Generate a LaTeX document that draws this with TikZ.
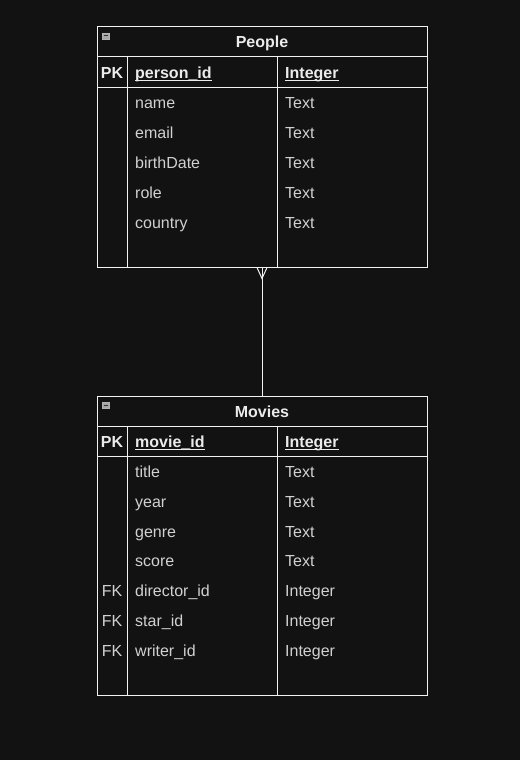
\documentclass[tikz,border=0pt]{standalone}
\usepackage{fontspec}
\setmainfont{Liberation Sans}
\usetikzlibrary{calc}
\begin{document}
\begin{tikzpicture}[x=1pt,y=-1pt,
  line/.style={draw=white!95!black,line width=1pt},
  tbl/.style={rectangle,line,inner sep=0pt,minimum width=330pt},
  cell/.style={anchor=base west,inner sep=0pt,text=white!82!black,font=\fontsize{16}{19}\selectfont},
  keycell/.style={anchor=base,inner sep=0pt,text=white!82!black,font=\fontsize{16}{19}\selectfont},
  pkcell/.style={anchor=base west,inner sep=0pt,text=white!92!black,font=\fontsize{16}{19}\selectfont\bfseries},
  head/.style={anchor=base,inner sep=0pt,text=white!92!black,font=\fontsize{16}{19}\selectfont\bfseries},
  uline/.style={draw=white!92!black,line width=1pt},
  icon/.style={rectangle,draw=white!70!black,fill=white!65!black,minimum width=7pt,minimum height=6pt,inner sep=0pt,line width=0.5pt}
]
\fill[black!93] (0,0) rectangle (520,760);
\useasboundingbox (0,0) rectangle (520,760);

% ---------- People ----------
\node[tbl,minimum height=240pt] (people) at (262,147) {};
\draw[line] (97,57) -- (427,57);
\draw[line] (97,87) -- (427,87);
\draw[line] (127,57) -- (127,267);
\draw[line] (277,57) -- (277,267);
\node[icon] (pIcon) at (106,36) {};
\draw[black!80,line width=1pt] ($(pIcon.west)+(1.5,0)$) -- ($(pIcon.east)+(-1.5,0)$);
\node[head] (pHead) at (262,48) {People};
\node[keycell,text=white!92!black,font=\fontsize{16}{19}\selectfont\bfseries] (pPK) at (112,78) {PK};
\node[pkcell] (pId) at (135,78) {person\_id};
\node[pkcell] (pIdT) at (285,78) {Integer};
\draw[uline] ($(pId.base west)+(0,2)$) -- ($(pId.base east)+(0,2)$);
\draw[uline] ($(pIdT.base west)+(0,2)$) -- ($(pIdT.base east)+(0,2)$);
\node[cell] (p1) at (135,108) {name};
\node[cell] (p1t) at (285,108) {Text};
\node[cell] (p2) at (135,138) {email};
\node[cell] (p2t) at (285,138) {Text};
\node[cell] (p3) at (135,168) {birthDate};
\node[cell] (p3t) at (285,168) {Text};
\node[cell] (p4) at (135,198) {role};
\node[cell] (p4t) at (285,198) {Text};
\node[cell] (p5) at (135,228) {country};
\node[cell] (p5t) at (285,228) {Text};

% ---------- Movies ----------
\node[tbl,minimum height=299pt] (movies) at (262,545.5) {};
\draw[line] (97,426) -- (427,426);
\draw[line] (97,456) -- (427,456);
\draw[line] (127,426) -- (127,695);
\draw[line] (277,426) -- (277,695);
\node[icon] (mIcon) at (106,405) {};
\draw[black!80,line width=1pt] ($(mIcon.west)+(1.5,0)$) -- ($(mIcon.east)+(-1.5,0)$);
\node[head] (mHead) at (262,417) {Movies};
\node[keycell,text=white!92!black,font=\fontsize{16}{19}\selectfont\bfseries] (mPK) at (112,447) {PK};
\node[pkcell] (mId) at (135,447) {movie\_id};
\node[pkcell] (mIdT) at (285,447) {Integer};
\draw[uline] ($(mId.base west)+(0,2)$) -- ($(mId.base east)+(0,2)$);
\draw[uline] ($(mIdT.base west)+(0,2)$) -- ($(mIdT.base east)+(0,2)$);
\node[cell] (m1) at (135,477) {title};
\node[cell] (m1t) at (285,477) {Text};
\node[cell] (m2) at (135,507) {year};
\node[cell] (m2t) at (285,507) {Text};
\node[cell] (m3) at (135,537) {genre};
\node[cell] (m3t) at (285,537) {Text};
\node[cell] (m4) at (135,566) {score};
\node[cell] (m4t) at (285,566) {Text};
\node[keycell] (mf5) at (112,596) {FK};
\node[cell] (m5) at (135,596) {director\_id};
\node[cell] (m5t) at (285,596) {Integer};
\node[keycell] (mf6) at (112,626) {FK};
\node[cell] (m6) at (135,626) {star\_id};
\node[cell] (m6t) at (285,626) {Integer};
\node[keycell] (mf7) at (112,656) {FK};
\node[cell] (m7) at (135,656) {writer\_id};
\node[cell] (m7t) at (285,656) {Integer};

% ---------- connector ----------
\coordinate (crow) at ($(people.south)+(0,11)$);
\draw[line] (people.south) -- (movies.north);
\draw[line] ($(people.south)+(-5,0)$) -- (crow) -- ($(people.south)+(5,0)$);
\end{tikzpicture}
\end{document}
